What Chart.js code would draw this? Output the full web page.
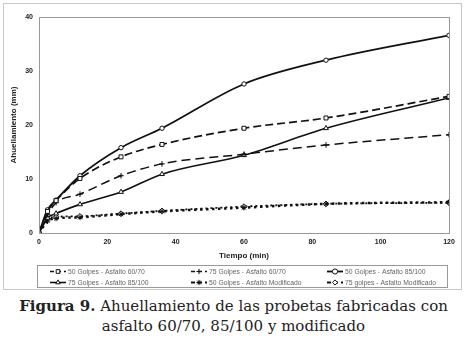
<!DOCTYPE html>
<html lang="es">
<head>
<meta charset="utf-8">
<style>
  body { margin: 0; background: #fff; width: 467px; height: 342px; position: relative; overflow: hidden; }
  #frame { position: absolute; left: 3px; top: 3px; width: 457px; height: 285px; border: 1px solid #c8c8c8; }
  #wrap { position: absolute; left: 0; top: 0; width: 467px; height: 292px; }
  #caption { position: absolute; left: 0; top: 296px; width: 467px; text-align: center;
    font-family: "DejaVu Serif", serif; font-size: 15px; line-height: 20px; color: #222; }
  #caption b { font-weight: bold; }
</style>
</head>
<body>
<div id="frame"></div>
<div id="wrap"><canvas id="myChart" width="467" height="292"></canvas></div>
<div id="caption"><b>Figura 9.</b> Ahuellamiento de las probetas fabricadas con<br>asfalto 60/70, 85/100 y modificado</div>
<script src="https://cdn.jsdelivr.net/npm/chart.js"></script>
<script>
// tiempos de lectura (min)
const tiempos = [0, 2.5, 5, 12, 24, 36, 60, 84, 120];
const labels = [
  '50 Golpes - Asfalto 60/70',
  '75 Golpes - Asfalto 60/70',
  '50 Golpes - Asfalto 85/100',
  '75 Golpes - Asfalto 85/100',
  '50 Golpes - Asfalto Modificado',
  '75 golpes - Asfalto Modificado'
];
const g50_6070 = [0, 4.0, 6.0, 10.1, 14.1, 16.4, 19.4, 21.3, 25.3];
const g75_6070 = [0, 3.4, 5.6, 7.2, 10.6, 12.8, 14.6, 16.3, 18.2];
const g50_85100 = [0, 4.3, 6.1, 10.6, 15.8, 19.4, 27.6, 32.0, 36.6];
const g75_85100 = [0, 2.8, 3.6, 5.3, 7.6, 10.9, 14.4, 19.4, 25.0];
const g50_mod = [0, 2.2, 2.7, 2.9, 3.5, 4.0, 4.7, 5.4, 5.7];
const g75_mod = [0, 2.6, 3.0, 3.1, 3.6, 4.1, 4.9, 5.4, 5.6];
const xTicks = [0, 20, 40, 60, 80, 100, 120];
const yTicks = [0, 10, 20, 30, 40];

const series = [g50_6070, g75_6070, g50_85100, g75_85100, g50_mod, g75_mod];
const markers = ['rect', 'cross', 'circle', 'triangle', 'star', 'rectRot'];
const dashes = [[8, 4], [9, 5], [], [], [2.5, 3.5], [2, 3]];
const widths = [1.7, 1.5, 1.8, 1.6, 2.5, 1.8];

const datasets = series.map((vals, i) => ({
  label: labels[i],
  data: vals.map((v, j) => ({x: tiempos[j], y: v})),
  borderColor: '#111',
  backgroundColor: '#fff',
  borderWidth: widths[i],
  borderDash: dashes[i],
  pointStyle: markers[i],
  pointRadius: markers[i] == 'circle' ? 2.2 : 2.8,
  pointBorderWidth: 1,
  pointBorderColor: '#111',
  pointBackgroundColor: '#fff',
  cubicInterpolationMode: 'monotone'
}));

// marco del area de trazado
const frame = {
  id: 'frame',
  afterDraw(chart) {
    const a = chart.chartArea, c = chart.ctx;
    c.save();
    c.strokeStyle = '#999';
    c.lineWidth = 1;
    c.strokeRect(Math.round(a.left) + 0.5, Math.round(a.top) + 0.5, Math.round(a.right - a.left), Math.round(a.bottom - a.top));
    c.restore();
  }
};

// leyenda en tres columnas
const legendGrid = {
  id: 'legendGrid',
  afterDraw(chart) {
    const c = chart.ctx;
    c.save();
    c.strokeStyle = '#999';
    c.lineWidth = 1;
    c.strokeRect(37.5, 265.5, 410, 22);
    const colX = [50, 191, 327];
    const rowY = [271.5, 282.5];
    chart.data.datasets.forEach((ds, i) => {
      const x = colX[i % 3], y = rowY[Math.floor(i / 3)];
      c.strokeStyle = '#111';
      c.lineWidth = Math.min(ds.borderWidth, 1.8);
      c.setLineDash(ds.borderDash.length ? [4, 3] : []);
      c.beginPath();
      c.moveTo(x, y);
      c.lineTo(x + 16, y);
      c.stroke();
      c.setLineDash([]);
      c.fillStyle = '#fff';
      c.lineWidth = 1;
      Chart.helpers.drawPoint(c, {pointStyle: ds.pointStyle, radius: 2.6, borderWidth: 1, rotation: 0}, x + 8, y);
      c.fillStyle = '#666';
      c.font = '6.8px "Liberation Sans", Arial, sans-serif';
      c.textBaseline = 'middle';
      c.fillText(ds.label, x + 18, y + 0.5);
    });
    c.restore();
  }
};

const tickFont = {family: '"Liberation Sans", Arial, sans-serif', size: 7, weight: 'bold'};
const titleFont = {family: '"Liberation Sans", Arial, sans-serif', size: 8, weight: 'bold'};

const config = {
  type: 'line',
  data: {datasets: datasets},
  options: {
    responsive: false,
    animation: false,
    layout: {padding: {top: 17, right: 18, bottom: 30, left: 0}},
    plugins: {legend: {display: false}, tooltip: {enabled: false}},
    scales: {
      x: {
        type: 'linear', min: 0, max: 120,
        afterBuildTicks: s => { s.ticks = xTicks.map(v => ({value: v})); },
        afterFit: s => { s.height = 29; },
        grid: {display: false, drawTicks: true, tickLength: 3, color: '#888'},
        border: {color: '#888'},
        ticks: {font: tickFont, color: '#222', padding: 2, maxRotation: 0},
        title: {display: true, text: 'Tiempo (min)', font: titleFont, color: '#222', padding: 1}
      },
      y: {
        min: 0, max: 40,
        afterBuildTicks: s => { s.ticks = yTicks.map(v => ({value: v})); },
        afterFit: s => { s.width = 39; },
        grid: {display: false, drawTicks: true, tickLength: 3, color: '#888'},
        border: {color: '#888'},
        ticks: {font: tickFont, color: '#222', padding: 3},
        title: {display: true, text: 'Ahuellamiento (mm)', font: titleFont, color: '#222', padding: 9}
      }
    }
  },
  plugins: [frame, legendGrid]
};

const myChart = new Chart(document.getElementById('myChart'), config);
</script>
</body>
</html>
